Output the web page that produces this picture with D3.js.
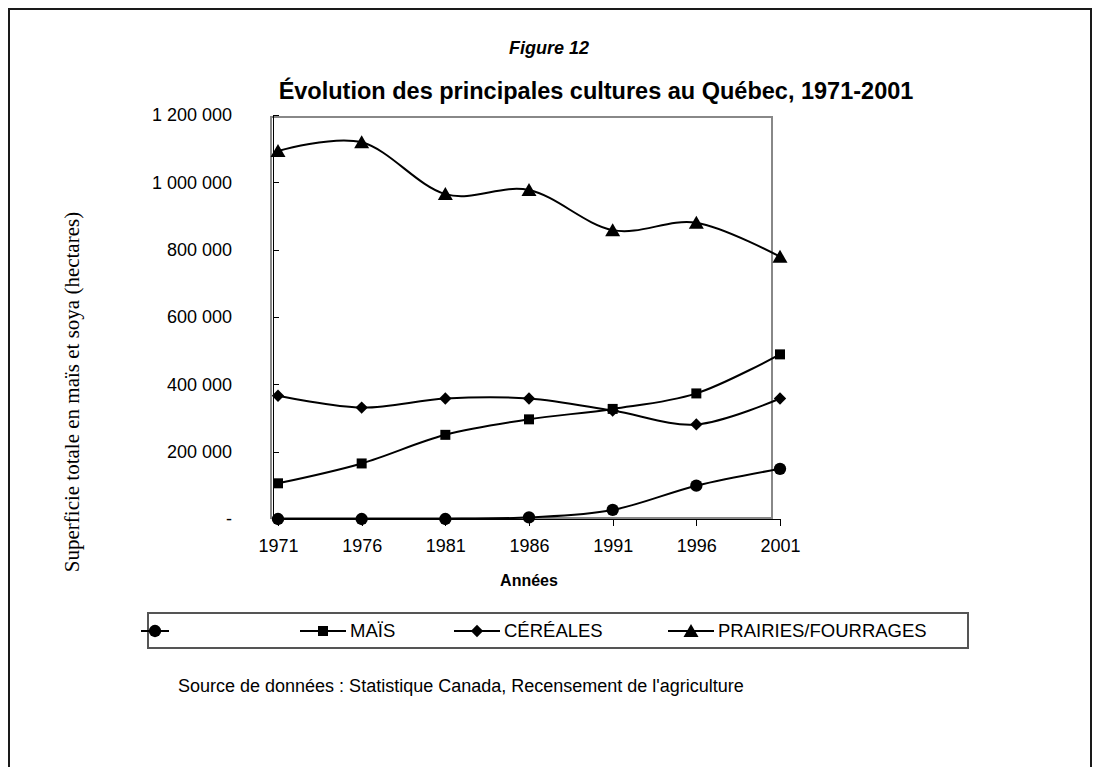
<!DOCTYPE html>
<html lang="fr">
<head>
<meta charset="UTF-8">
<title>Figure 12</title>
<script src="https://d3js.org/d3.v7.min.js"></script>
<style>
  body { margin: 0; background: #fff; }
  .axis path, .axis line { stroke: #000; shape-rendering: crispEdges; }
  .axis text { font-family: "Liberation Sans", Arial, sans-serif; font-size: 18px; fill: #000; }
</style>
</head>
<body>
<div id="chart"></div>
<script>
// data (hectares)
var years = ["1971", "1976", "1981", "1986", "1991", "1996", "2001"];
var soya = [0, 0, 0, 5000, 27000, 99000, 149000];
var mais = [106000, 165000, 250000, 296000, 327000, 373000, 489000];
var cereales = [366000, 331000, 358000, 358000, 322000, 281000, 358000];
var prairies = [1093000, 1119000, 965000, 977000, 858000, 880000, 779000];
var yTicks = [0, 200000, 400000, 600000, 800000, 1000000, 1200000];
var seriesNames = ["", "MAÏS", "CÉRÉALES", "PRAIRIES/FOURRAGES"];
var seriesSymbols = ["circle", "square", "diamond", "triangle"];

var series = [soya, mais, cereales, prairies].map(function(v, i) {
  return { name: seriesNames[i], symbol: seriesSymbols[i],
           values: v.map(function(d, j) { return { year: years[j], value: d }; }) };
});

var W = 1099, H = 767;
var svg = d3.select("#chart").append("svg")
    .attr("width", W)
    .attr("height", H);

// outer frame
svg.append("rect")
    .attr("x", 9).attr("y", 9)
    .attr("width", 1082).attr("height", 820)
    .attr("fill", "none")
    .attr("stroke", "#1a1a1a")
    .attr("stroke-width", 2);

var x = d3.scalePoint().domain(years).range([278, 780]);
var y = d3.scaleLinear().domain([0, 1200000]).range([519, 115]);

// plot area box (grey)
svg.append("rect")
    .attr("x", 271).attr("y", 117)
    .attr("width", 501).attr("height", 401)
    .attr("fill", "none")
    .attr("stroke", "#888")
    .attr("stroke-width", 2);

function fmt(d) {
  if (d === 0) return "-";
  return d3.format(",")(d).replace(/,/g, " ");
}

var yAxis = d3.axisLeft(y)
    .tickValues(yTicks)
    .tickFormat(fmt)
    .tickSizeInner(-6)
    .tickSizeOuter(0)
    .tickPadding(41);

svg.append("g")
    .attr("class", "axis")
    .attr("transform", "translate(273,0)")
    .call(yAxis);

var xAxis = d3.axisBottom(x)
    .tickSizeInner(7)
    .tickSizeOuter(0)
    .tickPadding(13);

var gx = svg.append("g")
    .attr("class", "axis")
    .attr("transform", "translate(0,519)")
    .call(xAxis);
gx.select(".domain").attr("d", "M273,0H780");

// lines
var line = d3.line()
    .x(function(d) { return x(d.year); })
    .y(function(d) { return y(d.value); })
    .curve(d3.curveCatmullRom.alpha(0));

svg.selectAll(".serie")
    .data(series)
    .enter().append("path")
    .attr("class", "serie")
    .attr("d", function(d) { return line(d.values); })
    .attr("fill", "none")
    .attr("stroke", "#000")
    .attr("stroke-width", 2);

function symbolPath(s) {
  if (s === "circle") return d3.symbol().type(d3.symbolCircle).size(120)();
  if (s === "square") return d3.symbol().type(d3.symbolSquare).size(100)();
  if (s === "diamond") return d3.symbol().type(d3.symbolSquare).size(76)();
  return "M0,-7L7.5,6L-7.5,6Z";
}
function symbolRot(s) { return s === "diamond" ? " rotate(45)" : ""; }

series.forEach(function(s) {
  svg.selectAll(null)
      .data(s.values)
      .enter().append("path")
      .attr("d", symbolPath(s.symbol))
      .attr("transform", function(d) {
        return "translate(" + x(d.year) + "," + y(d.value) + ")" + symbolRot(s.symbol);
      })
      .attr("fill", "#000");
});

// titles
svg.append("text")
    .attr("x", 549).attr("y", 54)
    .attr("text-anchor", "middle")
    .style("font", "italic bold 18px 'Liberation Sans', Arial, sans-serif")
    .text("Figure 12");

svg.append("text")
    .attr("x", 596).attr("y", 99)
    .attr("text-anchor", "middle")
    .style("font", "bold 23.5px 'Liberation Sans', Arial, sans-serif")
    .text("Évolution des principales cultures au Québec, 1971-2001");

svg.append("text")
    .attr("x", 529).attr("y", 586)
    .attr("text-anchor", "middle")
    .style("font", "bold 16px 'Liberation Sans', Arial, sans-serif")
    .text("Années");

svg.append("text")
    .attr("transform", "translate(79,392) rotate(-90)")
    .attr("text-anchor", "middle")
    .style("font", "21px 'Liberation Serif', 'Times New Roman', serif")
    .text("Superficie totale en maïs et soya (hectares)");

// legend
svg.append("rect")
    .attr("x", 148).attr("y", 613)
    .attr("width", 820).attr("height", 35)
    .attr("fill", "none")
    .attr("stroke", "#555")
    .attr("stroke-width", 2);

var legendX = [141, 300, 454, 668];
var lg = svg.selectAll(".legend")
    .data(series)
    .enter().append("g")
    .attr("class", "legend")
    .attr("transform", function(d, i) { return "translate(" + legendX[i] + ",631)"; });

lg.append("line")
    .attr("x1", 0).attr("x2", function(d, i) { return i === 0 ? 28 : 46; })
    .attr("stroke", "#000").attr("stroke-width", 2);
lg.append("path")
    .attr("d", function(d) { return symbolPath(d.symbol); })
    .attr("transform", function(d, i) { return "translate(" + (i === 0 ? 14 : 23) + ",0)" + symbolRot(d.symbol); })
    .attr("fill", "#000");
lg.append("text")
    .attr("x", 50).attr("dy", "0.35em")
    .style("font", "18.5px 'Liberation Sans', Arial, sans-serif")
    .text(function(d) { return d.name; });

svg.append("text")
    .attr("x", 178).attr("y", 692)
    .style("font", "18px 'Liberation Sans', Arial, sans-serif")
    .text("Source de données : Statistique Canada, Recensement de l'agriculture");
</script>
</body>
</html>
